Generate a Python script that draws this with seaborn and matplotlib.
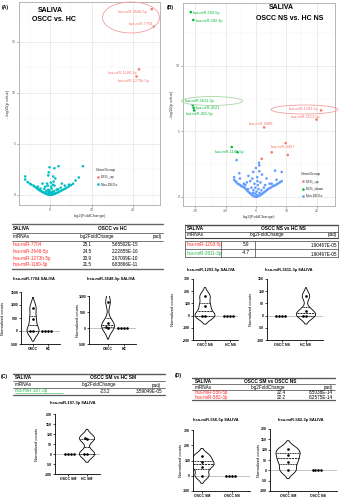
import matplotlib
matplotlib.use('Agg')
import numpy as np
import pandas as pd
import matplotlib.pyplot as plt
import seaborn as sns
from matplotlib.patches import Ellipse
from matplotlib.lines import Line2D

sns.set_theme(style='white')
plt.rcParams['font.family'] = ['Liberation Sans', 'DejaVu Sans']
plt.rcParams['axes.unicode_minus'] = False

# ---------------- DATA ----------------
# Panel A volcano (OSCC vs HC)
a_deg_mirs = ['hsa-miR-3648-5p', 'hsa-miR-7704', 'hsa-miR-1180-3p', 'hsa-miR-1273h-5p']
a_deg_lfc = [24.6, 25.1, 21.5, 20.9]
a_deg_logp = [18.2, 16.5, 12.3, 11.6]
a_non_lfc = [-6.1, -6.1, -5.5, -5.0, -4.6, -4.1, -3.8, -3.5, -3.2, -3.0,
             -2.7, -2.5, -2.2, -2.0, -1.8, -1.6, -1.4, -1.2, -1.0, -0.8,
             -0.6, -0.4, -0.2, 0.0, 0.2, 0.4, 0.6, 0.8, 1.0, 1.2,
             1.5, 1.8, 2.1, 2.4, 2.8, 3.2, 3.6, 4.0, 4.5, 5.0,
             5.5, 6.1, 6.9, 7.9,
             -0.2, 1.0, 2.0, -0.4, -0.5, 0.7, 1.2, 0.8, -1.9, -0.8,
             2.8, 4.5, -1.0, -0.5, 0.3, 0.5, 1.5, -1.5, -3.0, 2.5,
             0.0, -0.2, 0.2, 0.6, -0.6, 0.1, 1.0, -1.2, 3.5, -2.4,
             1.9, -0.9, 0.9, -0.1, 0.4, -0.3]
a_non_logp = [1.8, 1.5, 1.25, 1.1, 1.0, 0.9, 0.8, 0.72, 0.62, 0.55,
              0.48, 0.42, 0.36, 0.3, 0.26, 0.22, 0.18, 0.14, 0.11, 0.08,
              0.05, 0.03, 0.01, 0.0, 0.01, 0.03, 0.05, 0.07, 0.1, 0.13,
              0.18, 0.23, 0.3, 0.36, 0.44, 0.52, 0.6, 0.7, 0.82, 0.95,
              1.08, 1.4, 1.7, 2.8,
              2.7, 2.6, 2.8, 2.2, 1.9, 1.8, 1.6, 1.3, 1.1, 1.1,
              1.1, 1.0, 0.4, 0.5, 0.6, 0.3, 0.5, 0.6, 0.8, 0.7,
              0.2, 0.4, 0.8, 1.0, 0.9, 1.2, 0.9, 0.8, 0.9, 0.6,
              0.55, 0.3, 0.35, 0.15, 0.2, 0.25]

# Panel B volcano (OSCC NS vs HC NS)
b_up_mirs = ['hsa-miR-1293-5p', 'hsa-miR-2113-5p', 'hsa-miR-4488', 'hsa-miR-4497', '', '', '']
b_up_lfc = [21.5, 20.0, 2.7, 9.8, 5.2, 10.5, 1.9]
b_up_logp = [6.6, 5.9, 5.3, 4.1, 3.4, 3.2, 2.9]
b_down_mirs = ['hsa-miR-556-5p', 'hsa-miR-582-3p', 'hsa-miR-3611-3p', 'hsa-miR-4521', 'hsa-miR-455-5p', '', 'hsa-miR-1185-5p']
b_down_lfc = [-21.5, -20.7, -20.9, -20.6, -20.4, -8.0, -6.1]
b_down_logp = [14.1, 13.5, 7.0, 6.8, 6.6, 3.8, 3.4]
b_non_lfc = [-7.2, -6.8, -6.4, -6.0, -5.6, -5.2, -4.8, -4.4, -4.0,
             -3.6, -3.2, -2.8, -2.4, -2.0, -1.6, -1.2, -0.8, -0.4, 0.0,
             0.4, 0.8, 1.2, 1.6, 2.0, 2.4, 2.8, 3.2, 3.6, 4.0,
             4.5, 5.0, 5.5, 6.0, 6.5, 7.0, 7.5, 8.0, 8.5,
             -6.4, 1.1, 6.3, 8.5, -5.5, -7.2, -5.3, -4.0, -0.9, 1.1,
             0.4, 3.5, 6.8, -1.9, 1.0, -2.5, 2.0, 0.0, -1.2, 1.5,
             -3.0, 4.5, -0.5, 0.6, -1.5, -0.8, 0.2, 0.8, 1.8, 2.6,
             -2.6, -0.3, 0.3, 1.2, -1.0, 3.0, -3.5, 0.5, -0.2, 5.2]
b_non_logp = [1.3, 1.2, 1.1, 1.0, 0.95, 0.9, 0.82, 0.78, 0.74,
              0.65, 0.55, 0.45, 0.36, 0.28, 0.2, 0.12, 0.06, 0.02, 0.0,
              0.02, 0.06, 0.1, 0.16, 0.22, 0.3, 0.37, 0.44, 0.52, 0.59,
              0.66, 0.72, 0.8, 0.85, 0.9, 0.97, 1.05, 1.12, 1.2,
              2.8, 2.4, 2.0, 1.9, 1.8, 1.5, 1.4, 1.0, 1.9, 1.95,
              1.5, 1.4, 1.3, 1.2, 2.6, 1.6, 1.7, 2.2, 1.4, 1.1,
              1.1, 1.0, 1.0, 0.9, 0.7, 0.5, 0.4, 0.6, 0.5, 0.7,
              0.6, 0.25, 0.15, 0.3, 0.3, 0.9, 0.9, 1.2, 0.7, 1.0]

# Tables
tA_mirs = ['hsa-miR-7704', 'hsa-miR-3648-5p', 'hsa-miR-1273h-5p', 'hsa-miR-1180-3p']
tA_lfc = ['25.1', '24.5', '20.9', '21.5']
tA_padj = ['5.65502E-15', '2.22855E-16', '2.67009E-10', '6.83866E-11']
tB_mirs = ['hsa-miR-1293-5p', 'hsa-miR-3611-3p']
tB_lfc = ['5.9', '-4.7']
tB_padj = ['1.90467E-05', '1.90467E-05']
tC_mirs = ['hsa-miR-187-3p']
tC_lfc = ['-23.2']
tC_padj = ['3.59049E-05']
tD_mirs = ['hsa-miR-556-5p', 'hsa-miR-582-3p']
tD_lfc = ['22.4', '22.2']
tD_padj = ['8.5038E-14', '8.2575E-14']

# Violin data (normalized counts)
vA1_groups = ['OSCC', 'HC']; vA1_g1 = [0, 0, 450, 900]; vA1_g2 = [0, 0, 0, 0]
vA2_groups = ['OSCC', 'HC']; vA2_g1 = [0, 40, 160, 820]; vA2_g2 = [0, 0, 0, 0]
vB1_groups = ['OSCC NS', 'HC NS']; vB1_g1 = [0, 0, 80, 160]; vB1_g2 = [0, 0, 0, 0]
vB2_groups = ['OSCC NS', 'HC NS']; vB2_g1 = [0, 0, 0, 0]; vB2_g2 = [0, 0, 20, 80]
vC_groups = ['OSCC SM', 'HC SM']; vC_g1 = [0, 0, 0, 0]; vC_g2 = [0, 0, 75, 82]
vD1_groups = ['OSCC SM', 'OSCC NS']; vD1_g1 = [0, 60, 88, 130]; vD1_g2 = [0, 0, 0, 0]
vD2_groups = ['OSCC SM', 'OSCC NS']; vD2_g1 = [0, 42, 75, 103]; vD2_g2 = [0, 0, 0, 0]

RED = '#F8766D'; CYAN = '#00BFC4'; GREEN = '#00BA38'; BLUE = '#619CFF'
TRED = '#FF2A2A'; TGREEN = '#2DB84B'

# ---------------- FIGURE ----------------
W, H = 341, 500
fig = plt.figure(figsize=(3.41, 5.0), dpi=100)


def rect(x0, y0, x1, y1):
    return [x0 / W, 1 - y1 / H, (x1 - x0) / W, (y1 - y0) / H]


def T(x, y, s, size=3.3, ha='left', va='center', weight='normal', color='black', rot=0):
    fig.text(x / W, 1 - y / H, s, fontsize=size, ha=ha, va=va, fontweight=weight,
             color=color, rotation=rot)


def HL(x0, x1, y, lw=0.5, color='0.25'):
    fig.add_artist(Line2D([x0 / W, x1 / W], [1 - y / H, 1 - y / H], lw=lw, color=color))


def VL(x, y0, y1, lw=0.5, color='0.25'):
    fig.add_artist(Line2D([x / W, x / W], [1 - y0 / H, 1 - y1 / H], lw=lw, color=color))


def ELL(cx, cy, w, h, color):
    fig.add_artist(Ellipse((cx / W, 1 - cy / H), w / W, h / H, transform=fig.transFigure,
                           fill=False, ec=color, lw=0.6))


def volcano(rect_px, df, hue_order, palette, xlim, ylim, xmaj, xmin_, ymaj, ymin_, anchor):
    ax = fig.add_axes(rect(*rect_px))
    ax.set_axisbelow(True)
    sns.scatterplot(data=df, x='log2FoldChange', y='logp', hue='GeneGroup',
                    hue_order=hue_order, palette=palette, s=3.5, linewidth=0, ax=ax)
    ax.set_xlim(xlim); ax.set_ylim(ylim)
    ax.set_xticks(xmaj); ax.set_xticks(xmin_, minor=True)
    ax.set_yticks(ymaj); ax.set_yticks(ymin_, minor=True)
    ax.grid(True, which='major', color='#E4E4E4', lw=0.5)
    ax.grid(True, which='minor', color='#F1F1F1', lw=0.3)
    for sp in ax.spines.values():
        sp.set_color('#B5B5B5'); sp.set_linewidth(0.7)
    ax.tick_params(which='major', labelsize=2.5, length=1.2, width=0.4, colors='#606060', pad=1,
                   bottom=True, left=True)
    ax.tick_params(which='minor', length=0)
    ax.set_xlabel('log2(FoldChange)', fontsize=3, labelpad=1.5, color='#333333')
    ax.set_ylabel('- log10(p value)', fontsize=3, labelpad=1.5, color='#333333')
    sns.move_legend(ax, 'upper left', bbox_to_anchor=anchor, frameon=False, fontsize=2.6,
                    title='GeneGroup', title_fontsize=2.8, borderpad=0, labelspacing=0.9,
                    handletextpad=0.4, handlelength=0.8, alignment='left')
    return ax


def label_points(ax, names, xs, ys, offsets, color, size=2.8):
    for n, x, y, (dx, dy, ha) in zip(names, xs, ys, offsets):
        if not n:
            continue
        ax.annotate(n, xy=(x, y), xytext=(dx, dy), textcoords='offset pixels',
                    fontsize=size, color=color, ha=ha, va='center')


# ---- Panel A volcano
dfA = pd.DataFrame({
    'log2FoldChange': a_deg_lfc + a_non_lfc,
    'logp': a_deg_logp + a_non_logp,
    'GeneGroup': ['DEG_up'] * len(a_deg_lfc) + ['Non-DEGs'] * len(a_non_lfc)})
axA = volcano((19, 2, 160, 205), dfA, ['DEG_up', 'Non-DEGs'], {'DEG_up': RED, 'Non-DEGs': CYAN},
              (-7.6, 26.6), (-1, 18.9), [0, 10, 20], [-5, 5, 15, 25],
              [0, 5, 10, 15], [2.5, 7.5, 12.5, 17.5], (0.535, 0.19))
label_points(axA, a_deg_mirs, a_deg_lfc, a_deg_logp,
             [(-4, -3, 'right'), (-1, 2, 'right'), (-2, -4, 'right'), (-3, -5, 'center')], RED)

# ---- Panel B volcano
dfB = pd.DataFrame({
    'log2FoldChange': b_up_lfc + b_down_lfc + b_non_lfc,
    'logp': b_up_logp + b_down_logp + b_non_logp,
    'GeneGroup': ['DEG_up'] * len(b_up_lfc) + ['DEG_down'] * len(b_down_lfc) + ['Non-DEGs'] * len(b_non_lfc)})
axB = volcano((183, 3, 335, 206), dfB, ['DEG_up', 'DEG_down', 'Non-DEGs'],
              {'DEG_up': RED, 'DEG_down': GREEN, 'Non-DEGs': BLUE},
              (-24.1, 26.1), (-0.7, 14.8), [-20, -10, 0, 10, 20], [-15, -5, 5, 15, 25],
              [0, 5, 10], [2.5, 7.5, 12.5], (0.765, 0.175))
label_points(axB, b_up_mirs, b_up_lfc, b_up_logp,
             [(-3, 1, 'right'), (-11, 3, 'center'), (-3, 3.6, 'center'), (-3, -3.7, 'center'),
              (0, 0, 'left'), (0, 0, 'left'), (0, 0, 'left')], RED)
label_points(axB, b_down_mirs, b_down_lfc, b_down_logp,
             [(2, -0.4, 'left'), (2.7, -1, 'left'), (-8, 4.3, 'left'), (2.3, 0.2, 'left'),
              (-8.3, -3.8, 'left'), (0, 0, 'left'), (-8, 0, 'center')], GREEN)

# panel labels and volcano titles
T(2, 7, '(A)', size=3.6, weight='bold')
T(167, 7, '(B)', size=3.6, weight='bold')
T(50, 11, 'SALIVA', size=5, weight='bold', ha='center')
T(54, 19.5, 'OSCC vs. HC', size=5, weight='bold', ha='center')
T(281.5, 7.5, 'SALIVA', size=5, weight='bold', ha='center')
T(290, 18.5, 'OSCC NS vs. HC NS', size=5, weight='bold', ha='center')
ELL(131, 17.5, 57, 31, '#F2A0A0')
ELL(212, 101, 61, 9, '#A9D6A3')
ELL(304.5, 109.5, 67, 9, '#F2A0A0')

# ---------------- TABLES ----------------
# Table A
HL(12, 163, 223.5, lw=1.0, color='0.4')
T(13, 228.5, 'SALIVA', size=3.4, weight='bold')
T(112, 228.5, 'OSCC vs HC', size=3.4, weight='bold', ha='center')
HL(12, 163, 232.5, lw=0.5)
T(13, 236.8, 'miRNAs')
T(97, 236.8, 'log2FoldChange', ha='center')
T(162, 236.8, 'padj', ha='right')
HL(12, 163, 240.5, lw=0.5)
for i, (m, l, p) in enumerate(zip(tA_mirs, tA_lfc, tA_padj)):
    y = 244.5 + i * 6.8
    T(13, y, m, color=TRED)
    T(92, y, l, ha='right')
    T(112, y, p)
HL(12, 163, 269, lw=1.0, color='0.4')

# Table B
HL(185, 338, 224.5, lw=1.0, color='0.3')
VL(185, 224.5, 237.5); VL(338, 224.5, 237.5)
T(187, 228, 'SALIVA', size=3.4, weight='bold')
T(283, 228, 'OSCC NS vs HC NS', size=3.4, weight='bold', ha='center')
HL(185, 338, 231.5, lw=0.5)
T(187, 234.7, 'miRNAs')
T(267, 234.7, 'log2FoldChange', ha='center')
T(337, 234.7, 'padj', ha='right')
HL(185, 338, 237.5, lw=0.8)
HL(185, 338, 241, lw=0.5); HL(185, 338, 248.7, lw=0.5); HL(185, 338, 257, lw=0.5)
for xv in (185, 221, 255, 338):
    VL(xv, 241, 257)
for i, (m, l, p) in enumerate(zip(tB_mirs, tB_lfc, tB_padj)):
    y = 244.8 + i * 8.2
    T(187, y, m, color=TRED if i == 0 else TGREEN)
    T(249.5, y, l, ha='right')
    T(337, y + 1.0, p, ha='right')

# Table C
T(1, 376.5, '(C)', size=3.6, weight='bold')
HL(13, 165, 373.5, lw=1.0, color='0.35')
T(15, 377.5, 'SALIVA', size=3.4, weight='bold')
T(113, 377.5, 'OSCC SM vs HC SM', size=3.4, weight='bold', ha='center')
HL(13, 165, 380.8, lw=0.5)
T(15, 384.6, 'miRNAs')
T(98.5, 384.6, 'log2FoldChange', ha='center')
T(161, 385.2, 'padj', ha='right')
HL(13, 165, 387.7, lw=0.5)
for i, (m, l, p) in enumerate(zip(tC_mirs, tC_lfc, tC_padj)):
    T(15, 390.8, m, color=TGREEN)
    T(110, 391.5, l, ha='right')
    T(162, 391.5, p, ha='right')
HL(15, 63, 393.3, lw=0.4, color=TGREEN)
HL(13, 165, 394.5, lw=0.9, color='0.35')

# Table D
T(175, 375, '(D)', size=3.6, weight='bold')
HL(192, 335, 377.5, lw=1.0, color='0.35')
T(195, 381.2, 'SALIVA', size=3.4, weight='bold')
T(270, 381.2, 'OSCC SM vs OSCC NS', size=3.4, weight='bold', ha='center')
HL(192, 335, 383.8, lw=0.5)
T(195, 387.2, 'miRNAs')
T(268, 387.2, 'log2FoldChange', ha='center')
T(333, 387.2, 'padj', ha='right')
HL(192, 335, 389.5, lw=0.5)
for i, (m, l, p) in enumerate(zip(tD_mirs, tD_lfc, tD_padj)):
    y = 392.5 + i * 4.6
    T(195, y, m, color=TRED)
    T(286, y, l, ha='right')
    T(333, y, p, ha='right')
HL(192, 335, 400, lw=0.9, color='0.35')


# ---------------- VIOLINS ----------------
def violin_panel(rect_px, groups, g1, g2, vio_idx, ylim, yticks, xlim, title, title_xy, ylab_x):
    ax = fig.add_axes(rect(*rect_px))
    ax.patch.set_alpha(0)
    df = pd.DataFrame({'group': [groups[0]] * len(g1) + [groups[1]] * len(g2),
                       'counts': list(g1) + list(g2)})
    vdf = df[df['group'] == groups[vio_idx]]
    ax.axhline(0, color='0.72', lw=0.6, zorder=0)
    sns.violinplot(data=vdf, x='group', y='counts', order=groups, fill=False, color='black',
                   linewidth=0.6, inner='quart', cut=2, bw_adjust=0.6, width=0.8, ax=ax)
    sns.swarmplot(data=df, x='group', y='counts', order=groups, color='black', size=1.9, ax=ax)
    ax.set_xlim(xlim); ax.set_ylim(ylim); ax.set_yticks(yticks)
    sns.despine(ax=ax)
    for s in ('left', 'bottom'):
        ax.spines[s].set_linewidth(0.6); ax.spines[s].set_color('black')
    ax.tick_params(axis='both', labelsize=2.5, length=1.3, width=0.5, pad=0.8,
                   bottom=True, left=True, direction='out', colors='black')
    for lab in ax.get_xticklabels() + ax.get_yticklabels():
        lab.set_fontweight('bold')
    ax.set_xlabel(''); ax.set_ylabel('')
    T(title_xy[0], title_xy[1], title, size=2.9, weight='bold')
    cy = (rect_px[1] + rect_px[3]) / 2
    T(ylab_x, cy, 'Normalized counts', size=2.9, rot=90, ha='center')
    return ax


violin_panel((21, 292, 60, 344), vA1_groups, vA1_g1, vA1_g2, 0, (-500, 1500),
             [-500, 0, 500, 1000, 1500], (-0.8, 1.8), 'hsa-miR-7704 SALIVA', (13, 279), 3.5)
violin_panel((89, 296, 136, 344), vA2_groups, vA2_g1, vA2_g2, 0, (-500, 1000),
             [-500, 0, 500, 1000], (-1.19, 1.75), 'hsa-miR-3648-5p SALIVA', (87, 279), 78)
violin_panel((193, 279, 238, 340), vB1_groups, vB1_g1, vB1_g2, 0, (-200, 300),
             [-200, -100, 0, 100, 200, 300], (-0.48, 1.32), 'hsa-miR-1293-5p SALIVA', (187, 270), 173.5)
violin_panel((267, 279, 323, 340), vB2_groups, vB2_g1, vB2_g2, 1, (-100, 150),
             [-100, -50, 0, 50, 100, 150], (-0.625, 1.71), 'hsa-miR-3611-3p SALIVA', (265, 270), 251)
violin_panel((55, 414, 100, 474), vC_groups, vC_g1, vC_g2, 1, (-100, 200),
             [-100, -50, 0, 50, 100, 150, 200], (-0.68, 1.68), 'hsa-miR-187-3p SALIVA', (50, 403), 37.5)
violin_panel((193, 430, 250, 491), vD1_groups, vD1_g1, vD1_g2, 0, (-100, 300),
             [-100, 0, 100, 200, 300], (-0.3, 1.6), 'hsa-miR-556-5p SALIVA', (193, 420), 181)
violin_panel((270, 429, 337, 491), vD2_groups, vD2_g1, vD2_g2, 0, (-100, 200),
             [-100, -50, 0, 50, 100, 150, 200], (-0.6, 1.63), 'hsa-miR-582-3p SALIVA', (278, 420), 258.5)

fig.savefig('out.png', dpi=100)
